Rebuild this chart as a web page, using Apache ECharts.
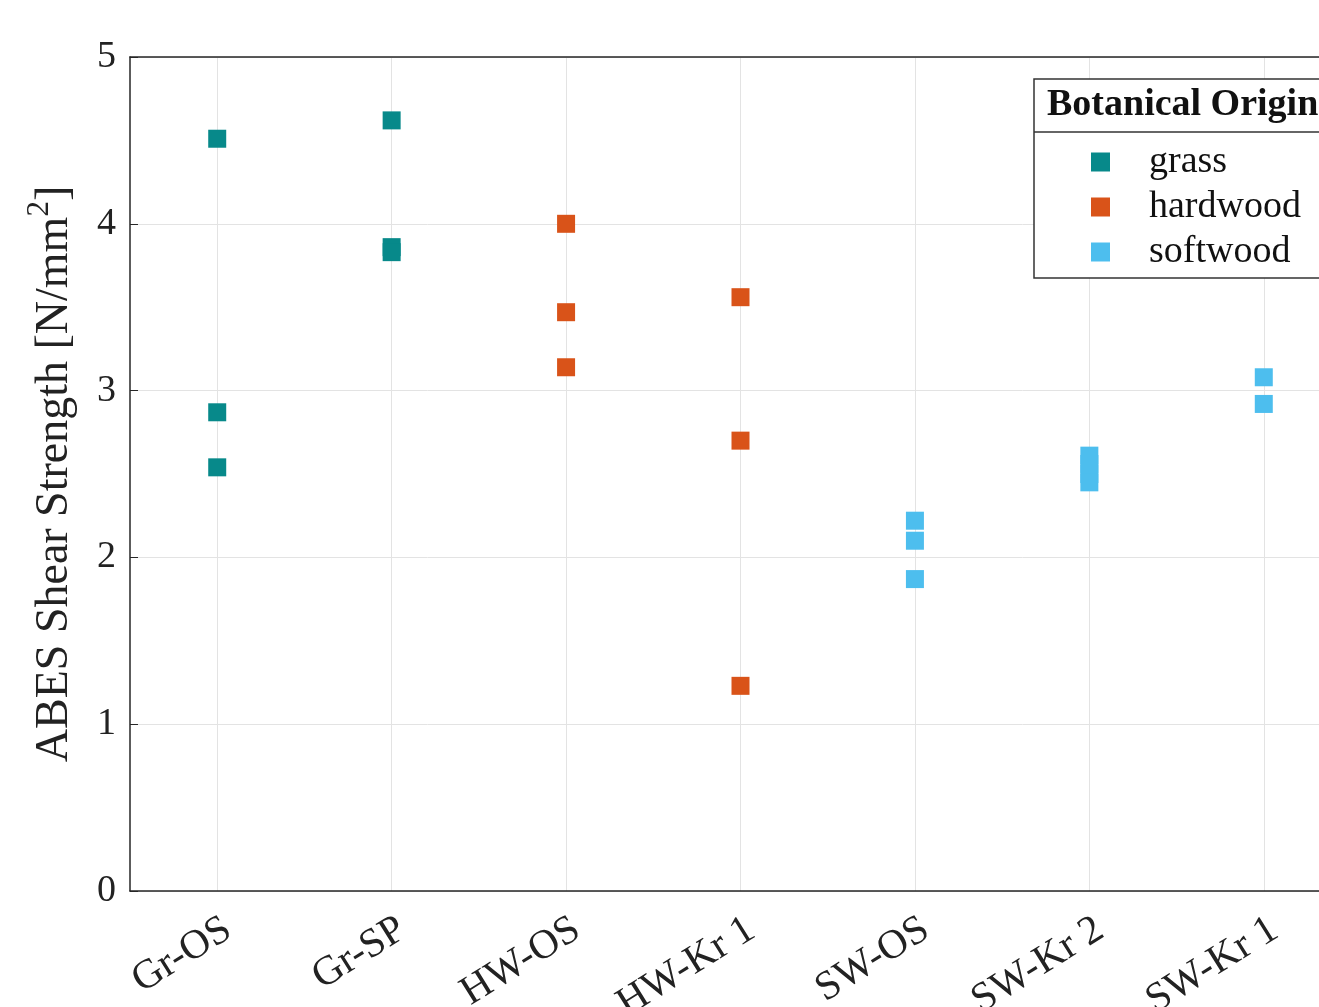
<!DOCTYPE html>
<html>
<head>
<meta charset="utf-8">
<script src="https://cdn.jsdelivr.net/npm/echarts@6/dist/echarts.min.js"></script>
<style>html,body{margin:0;padding:0;background:#fff}#main{width:1319px;height:1007px}</style>
</head>
<body>
<div id="main"></div>
<script>
var categories = ['Gr-OS', 'Gr-SP', 'HW-OS', 'HW-Kr 1', 'SW-OS', 'SW-Kr 2', 'SW-Kr 1'];
var grassData = [['Gr-OS', 4.51], ['Gr-OS', 2.87], ['Gr-OS', 2.54], ['Gr-SP', 4.62], ['Gr-SP', 3.86], ['Gr-SP', 3.83]];
var hardwoodData = [['HW-OS', 4.00], ['HW-OS', 3.47], ['HW-OS', 3.14], ['HW-Kr 1', 3.56], ['HW-Kr 1', 2.70], ['HW-Kr 1', 1.23]];
var softwoodData = [['SW-OS', 2.22], ['SW-OS', 2.10], ['SW-OS', 1.87], ['SW-Kr 2', 2.61], ['SW-Kr 2', 2.56], ['SW-Kr 2', 2.50], ['SW-Kr 2', 2.45], ['SW-Kr 1', 3.08], ['SW-Kr 1', 2.92]];
var yTicks = [0, 1, 2, 3, 4, 5];

var serif = '"Liberation Serif", "DejaVu Serif", serif';
var chart = echarts.init(document.getElementById('main'));
var option = {
  animation: false,
  grid: { left: 130, width: 1221, top: 57, height: 834, outerBoundsMode: 'none', containLabel: false },
  legend: {
    data: ['grass', 'hardwood', 'softwood'],
    orient: 'vertical',
    left: 1086,
    top: 138,
    icon: 'rect',
    itemWidth: 19,
    itemHeight: 19,
    itemGap: 7,
    z: 10,
    textStyle: { fontFamily: serif, fontSize: 38, color: '#111', padding: [0, 0, 0, 34] }
  },
  graphic: [
    { type: 'rect', z: 5, shape: { x: 1034, y: 79, width: 300, height: 199 }, style: { fill: '#fff', stroke: '#333', lineWidth: 1.5 } },
    { type: 'line', z: 5, shape: { x1: 1034, y1: 132, x2: 1334, y2: 132 }, style: { stroke: '#333', lineWidth: 1.5 } },
    { type: 'text', z: 6, left: 1047, top: 86, style: { text: 'Botanical Origin', font: 'bold 38px ' + serif, fill: '#111' } }
  ],
  xAxis: [{
    type: 'category',
    data: categories,
    position: 'bottom',
    axisLine: { lineStyle: { color: '#262626', width: 1.5 } },
    axisTick: { inside: true, alignWithLabel: true, length: 8, lineStyle: { color: '#262626' } },
    splitLine: { show: true, alignWithLabel: true, lineStyle: { color: '#e3e3e3' } },
    axisLabel: { rotate: 32, margin: 18, verticalAlign: 'top', fontFamily: serif, fontSize: 41, color: '#222' }
  }, {
    type: 'category',
    data: categories,
    position: 'top',
    axisLine: { lineStyle: { color: '#262626', width: 1.5 } },
    axisTick: { inside: true, alignWithLabel: true, length: 8, lineStyle: { color: '#262626' } },
    axisLabel: { show: false }
  }],
  yAxis: {
    type: 'value',
    min: 0,
    max: 5,
    interval: 1,
    name: 'ABES Shear Strength [N/mm{sup|2}]',
    nameLocation: 'middle',
    nameGap: 37,
    nameTextStyle: {
      fontFamily: serif, fontSize: 46, color: '#222', lineHeight: 62,
      rich: { sup: { fontFamily: serif, fontSize: 31, color: '#222', verticalAlign: 'top', lineHeight: 31 } }
    },
    axisLine: { show: true, lineStyle: { color: '#262626', width: 1.5 } },
    axisTick: { show: true, inside: true, length: 8, lineStyle: { color: '#262626' } },
    splitLine: { lineStyle: { color: '#e3e3e3' } },
    axisLabel: {
      margin: 14, fontFamily: serif, fontSize: 38, color: '#222',
      formatter: function (v) { return yTicks.indexOf(v) >= 0 ? String(v) : ''; }
    }
  },
  series: [
    { name: 'grass', type: 'scatter', symbol: 'rect', symbolSize: 18, data: grassData, itemStyle: { color: '#07898a', opacity: 1 } },
    { name: 'hardwood', type: 'scatter', symbol: 'rect', symbolSize: 18, data: hardwoodData, itemStyle: { color: '#d95319', opacity: 1 } },
    { name: 'softwood', type: 'scatter', symbol: 'rect', symbolSize: 18, data: softwoodData, itemStyle: { color: '#4dbeee', opacity: 1 } }
  ]
};
chart.setOption(option);
window.addEventListener('resize', function () { chart.resize(); });
</script>
</body>
</html>
